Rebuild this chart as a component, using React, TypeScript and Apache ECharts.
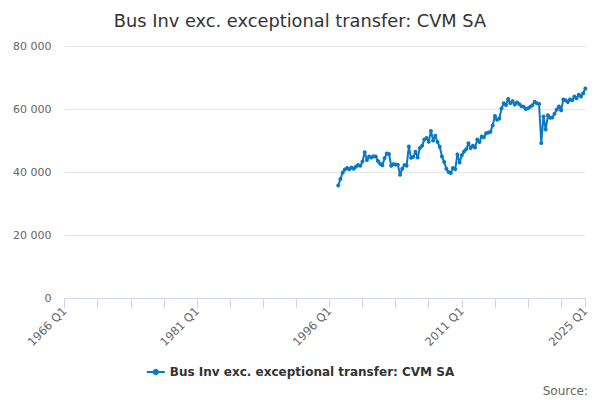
import React, { useEffect, useRef } from "react";
import * as echarts from "echarts";

const TITLE = "Bus Inv exc. exceptional transfer: CVM SA";
const SERIES_NAME = "Bus Inv exc. exceptional transfer: CVM SA";
const FIRST_YEAR = 1966;
const LAST_YEAR = 2025;
const DATA_START = "1997 Q1";

// Quarterly values from 1997 Q1 to 2025 Q1 (£ million)
const values: number[] = [
  35700, 37800, 39800, 40800, // 1997
  41300, 40900, 41400, 41000, // 1998
  41700, 42200, 42000, 43300, // 1999
  46300, 43800, 44900, 44600, // 2000
  45000, 44900, 43500, 42600, // 2001
  42100, 44400, 45900, 45700, // 2002
  42000, 42500, 42400, 42300, // 2003
  39100, 41000, 42200, 42000, // 2004
  48100, 44500, 44800, 46400, // 2005
  44600, 47600, 48300, 50300, // 2006
  50800, 49600, 53000, 50000, // 2007
  51500, 49500, 48000, 44900, // 2008
  43200, 41000, 40000, 39700, // 2009
  41300, 40900, 45600, 43000, // 2010
  45300, 46500, 47200, 49100, // 2011
  47600, 48300, 47800, 50300, // 2012
  49500, 51300, 51000, 52300, // 2013
  52500, 52800, 54800, 57800, // 2014
  56600, 57000, 60200, 61800, // 2015
  61300, 63200, 61800, 62500, // 2016
  61400, 62100, 61600, 60900, // 2017
  60700, 60000, 60200, 60700, // 2018
  61200, 62300, 61800, 61600, // 2019
  49200, 57600, 53500, 58000, // 2020
  57200, 57300, 58500, 59800, // 2021
  60800, 59600, 63000, 62800, // 2022
  62200, 63000, 62800, 64000, // 2023
  63400, 64500, 64000, 65000, // 2024
  66500, // 2025
];

const categories: string[] = [];
for (let y = FIRST_YEAR; y <= LAST_YEAR; y++) {
  for (let q = 1; q <= 4; q++) {
    if (y === LAST_YEAR && q > 1) break;
    categories.push(`${y} Q${q}`);
  }
}

const Y_MIN = 0;
const Y_MAX = 80000;
const Y_STEP = 20000;
const LABEL_EVERY = 60;
const TICK_EVERY = 15;

export default function App() {
  const ref = useRef<HTMLDivElement>(null);

  useEffect(() => {
    if (!ref.current) return;
    const chart = echarts.init(ref.current, undefined, { renderer: "svg" });
    const startIdx = categories.indexOf(DATA_START);
    const data: (number | null)[] = categories.map((_, i) =>
      i >= startIdx && i - startIdx < values.length ? values[i - startIdx] : null
    );
    const last = categories.length - 1;
    const font = "DejaVu Sans, sans-serif";
    const color = "#0a78c3";

    chart.setOption({
      animation: false,
      backgroundColor: "#ffffff",
      textStyle: { fontFamily: font },
      title: {
        text: TITLE,
        left: "center",
        top: 6,
        textStyle: { fontFamily: font, fontSize: 17.8, fontWeight: "normal", color: "#333333" },
      },
      grid: { left: 64.6, right: 14.6, top: 46, bottom: 102, containLabel: false },
      legend: {
        bottom: 17,
        left: "center",
        itemWidth: 18,
        itemHeight: 8,
        itemGap: 6,
        textStyle: { fontFamily: font, fontSize: 12, fontWeight: "bold", color: "#333333" },
        data: [SERIES_NAME],
      },
      xAxis: {
        type: "category",
        data: categories,
        boundaryGap: false,
        axisLine: { lineStyle: { color: "#ccd6eb" } },
        axisTick: {
          length: 10,
          interval: (i: number) => i % TICK_EVERY === 0 || i === last,
          lineStyle: { color: "#ccd6eb" },
        },
        axisLabel: {
          rotate: 45,
          interval: (i: number) => i % LABEL_EVERY === 0 || i === last,
          color: "#666666",
          fontSize: 11.5,
          fontFamily: font,
          margin: 11,
        },
        splitLine: { show: false },
      },
      yAxis: {
        type: "value",
        min: Y_MIN,
        max: Y_MAX,
        interval: Y_STEP,
        axisLine: { show: false },
        axisTick: { show: false },
        axisLabel: {
          color: "#666666",
          fontSize: 11,
          fontFamily: font,
          margin: 13,
          formatter: (v: number) => String(v).replace(/\B(?=(\d{3})+(?!\d))/g, " "),
        },
        splitLine: { lineStyle: { color: "#e6e6e6" } },
      },
      graphic: [
        {
          type: "text",
          right: 12,
          bottom: 3,
          style: { text: "Source:", fill: "#666666", fontSize: 12, fontFamily: font },
        },
      ],
      series: [
        {
          name: SERIES_NAME,
          type: "line",
          data,
          connectNulls: false,
          showSymbol: true,
          showAllSymbol: true,
          symbol: "circle",
          symbolSize: 4,
          lineStyle: { width: 2, color },
          itemStyle: { color },
        },
      ],
    });
    return () => chart.dispose();
  }, []);

  return (
    <div
      ref={ref}
      style={{ position: "fixed", left: 0, top: 0, width: 600, height: 400 }}
    />
  );
}
